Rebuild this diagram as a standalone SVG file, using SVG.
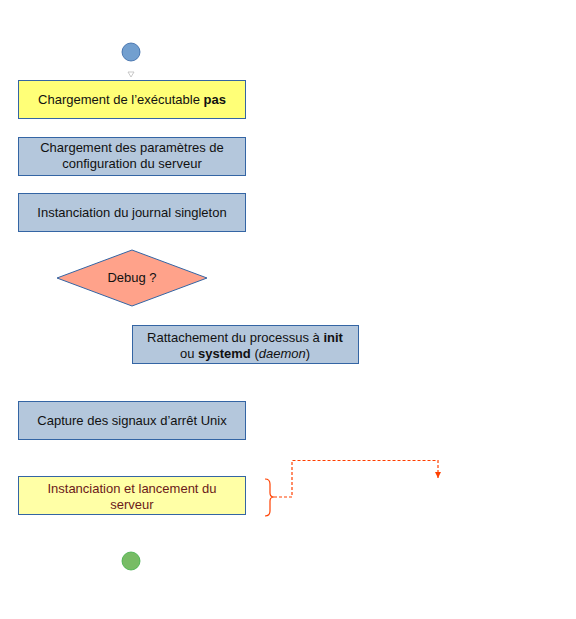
<svg xmlns="http://www.w3.org/2000/svg" width="576" height="619" viewBox="0 0 576 619">
<style>
.box{stroke:#3465a4;stroke-width:1}
.y{fill:#ffff77}
.b{fill:#b4c7dc}
.ly{fill:#ffffa6}
.t{font-family:"Liberation Sans",Arial,sans-serif;font-size:13px;fill:#111111;text-anchor:middle}
.dr{fill:#6b1a1a}
.conn{fill:none;stroke:#ff4000;stroke-width:1.2}
</style>
<defs>
<marker id="ah" markerWidth="8" markerHeight="8" refX="6" refY="3.5" orient="auto" markerUnits="userSpaceOnUse">
<path d="M0,0.5 L6,3.5 L0,6.5 Z" fill="#ff4000"/>
</marker>
</defs>
<rect width="576" height="619" fill="#ffffff"/>
<g id="start">
<circle cx="131" cy="52" r="9" fill="#729fcf" stroke="#3465a4" stroke-width="0.8"/>
<path d="M128,72 L134,72 L131,77 Z" fill="none" stroke="#bbbbbb" stroke-width="0.8"/>
</g>
<g id="n1">
<rect class="box y" x="18.5" y="80.5" width="227" height="38"/>
<text class="t" x="132" y="104">Chargement de l’exécutable <tspan font-weight="bold">pas</tspan></text>
</g>
<g id="n2">
<rect class="box b" x="18.5" y="137.5" width="227" height="38"/>
<text class="t" x="132" y="152">Chargement des paramètres de</text>
<text class="t" x="132" y="168">configuration du serveur</text>
</g>
<g id="n3">
<rect class="box b" x="18.5" y="193.5" width="227" height="38"/>
<text class="t" x="132" y="217">Instanciation du journal singleton</text>
</g>
<g id="debug">
<path d="M57,278 L132,250 L207,278 L132,306 Z" fill="#ffa28a" stroke="#3465a4" stroke-width="1"/>
<text class="t" x="132" y="282">Debug ?</text>
</g>
<g id="n4">
<rect class="box b" x="132.5" y="325.5" width="226" height="38"/>
<text class="t" x="245" y="342">Rattachement du processus à <tspan font-weight="bold">init</tspan></text>
<text class="t" x="245" y="358">ou <tspan font-weight="bold">systemd</tspan> (<tspan font-style="italic">daemon</tspan>)</text>
</g>
<g id="n5">
<rect class="box b" x="18.5" y="401.5" width="227" height="38"/>
<text class="t" x="132" y="425">Capture des signaux d’arrêt Unix</text>
</g>
<g id="n6">
<rect class="box ly" x="18.5" y="476.5" width="227" height="38"/>
<text class="t dr" x="132" y="493">Instanciation et lancement du</text>
<text class="t dr" x="132" y="509">serveur</text>
</g>
<g id="end">
<circle cx="131" cy="561" r="9" fill="#77bc65" stroke="#3faf46" stroke-width="0.8"/>
</g>
<g id="connectors">
<path class="conn" d="M265,479 Q270,479 270,484 L270,493 Q270,497 274,497 Q270,497 270,501 L270,511 Q270,516 265,516"/>
<path class="conn" stroke-dasharray="3,2" d="M274,497 L292,497 L292,460.5 L438,460.5 L438,478" marker-end="url(#ah)"/>
</g>
</svg>
